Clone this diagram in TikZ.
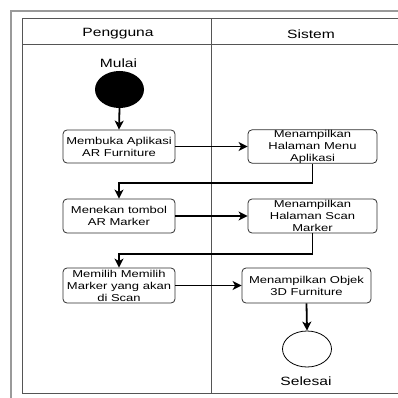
\documentclass[tikz,border=0pt]{standalone}
\usepackage{fontspec}
\setmainfont{Liberation Sans}[FakeStretch=1.3]
\usetikzlibrary{shapes.geometric, arrows.meta, positioning}
\definecolor{outergray}{HTML}{9A9A9A}
\definecolor{lanegray}{HTML}{555555}
\definecolor{boxline}{HTML}{2E2E2E}

\begin{document}
\begin{tikzpicture}[
    x=1pt, y=-1pt,
    every node/.style={font=\fontsize{10}{12}\selectfont, text=black},
    lanehead/.style={font=\fontsize{12}{14}\selectfont},
    activity/.style={draw=boxline, line width=0.8pt, rounded corners=4pt, align=center, inner xsep=1pt, inner ysep=0pt, minimum height=33pt},
    startnode/.style={ellipse, fill=black, minimum width=49pt, minimum height=37pt, inner sep=0pt},
    endnode/.style={ellipse, draw=black, line width=0.8pt, minimum width=49pt, minimum height=36pt, inner sep=0pt},
    flow/.style={draw=black, line width=1.8pt, -{Stealth[length=9pt, width=9pt, inset=2.5pt]}}
]
\useasboundingbox (0,0) rectangle (398,398);

% Frames and swimlanes
\draw[outergray, line width=1.2pt] (11,405) -- (11,11) -- (405,11);
\draw[lanegray, line width=1pt] (22,393) -- (22,19) -- (405,19);
\draw[lanegray, line width=1pt] (22,393) -- (405,393);
\draw[lanegray, line width=0.8pt] (22,44) -- (405,44);
\draw[lanegray, line width=0.8pt] (211,19) -- (211,393);

\node[lanehead] (pengguna) at (118,34) {Pengguna};
\node[lanehead] (sistem) at (311,34) {Sistem};

% Start
\node[lanehead] (lblmulai) at (118.5,63) {Mulai};
\node[startnode] (mulai) at (119.5,89.5) {};

% Activities
\node[activity, minimum width=112pt] (buka) at (119,146.5) {Membuka Aplikasi\\AR Furniture};
\node[activity, minimum width=129pt] (menu) at (312.5,146.5) {Menampilkan\\Halaman Menu\\Aplikasi};

\node[activity, minimum width=112pt, minimum height=34pt] (tekan) at (119,216) {Menekan tombol\\AR Marker};
\node[activity, minimum width=129pt, minimum height=34pt] (scan) at (312.5,216) {Menampilkan\\Halaman Scan\\Marker};

\node[activity, minimum width=112pt, minimum height=35pt] (pilih) at (119,285.5) {Memilih Memilih\\Marker yang akan\\di Scan};
\node[activity, minimum width=129pt, minimum height=35pt] (objek) at (306.5,285.5) {Menampilkan Objek\\3D Furniture};

% End
\node[endnode] (selesai) at (307,349) {};
\node[lanehead] (lblselesai) at (306,381) {Selesai};

% Bends
\coordinate (bend1) at (0,183);
\coordinate (bend2) at (0,254);

% Connecting arrows
\draw[flow] (mulai.south) -- (buka.north);
\draw[flow] (buka.east) -- (menu.west);
\draw[flow] (menu.south) -- (menu.south |- bend1) -| (tekan.north);
\draw[flow] (tekan.east) -- (scan.west);
\draw[flow] (scan.south) -- (scan.south |- bend2) -| (pilih.north);
\draw[flow] (pilih.east) -- (objek.west);
\draw[flow] (objek.south) -- (selesai.north);

\end{tikzpicture}
\end{document}
